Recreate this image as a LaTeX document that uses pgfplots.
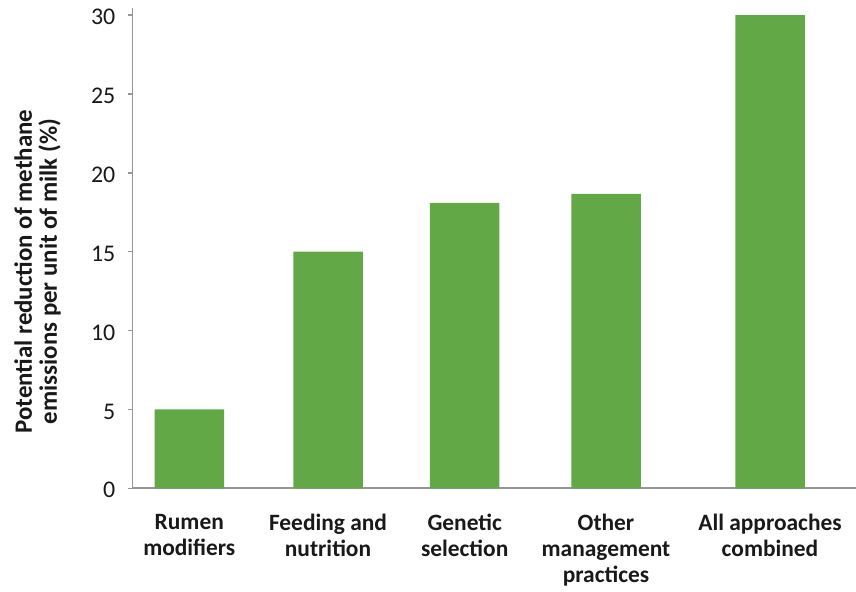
\documentclass[border=0pt]{standalone}
\usepackage{fontspec}
\setmainfont{Carlito}
\usepackage{pgfplots}
\pgfplotsset{compat=1.18}
\definecolor{bargreen}{RGB}{99,168,70}
\definecolor{axgray}{RGB}{150,150,150}
\definecolor{txt}{RGB}{25,25,25}
\begin{document}
\begin{tikzpicture}
\useasboundingbox (0,0) rectangle (856bp,592bp);
\begin{axis}[
  at={(132.3bp,103.7bp)}, anchor=south west,
  scale only axis, width=723.7bp, height=480.3bp,
  xmin=132.3, xmax=856, ymin=0, ymax=30.45,
  axis x line*=bottom, axis y line*=left,
  axis line style={axgray, line width=1.6bp},
  ytick={0,5,...,30},
  ytick style={axgray, line width=1.4bp},
  tick align=outside, major tick length=4.5bp,
  xtick={189.3,328,464.7,606,770},
  xticklabels={Rumen\\modifiers, Feeding and\\nutrition, Genetic\\selection, Other\\management\\practices, All approaches\\combined},
  xtick style={draw=none},
  xticklabel style={align=center, font=\bfseries\fontsize{23.5}{26}\selectfont, text=txt, anchor=north, yshift=-18bp},
  yticklabel style={font=\fontsize{24}{26}\selectfont, text=txt, xshift=-9bp, yshift=-2bp},
  /pgf/number format/assume math mode=true,
  ybar, bar width=69.5,
]
\addplot[fill=bargreen, draw=none] coordinates {(189.3,5) (328,15) (464.7,18.1) (606,18.66) (770,30)};
\end{axis}
\node[rotate=90, align=center, font=\bfseries\fontsize{25}{25}\selectfont, text=txt] at (37.5bp,320.5bp) {Potential reduction of methane\\emissions per unit of milk (\%)};
\end{tikzpicture}
\end{document}
